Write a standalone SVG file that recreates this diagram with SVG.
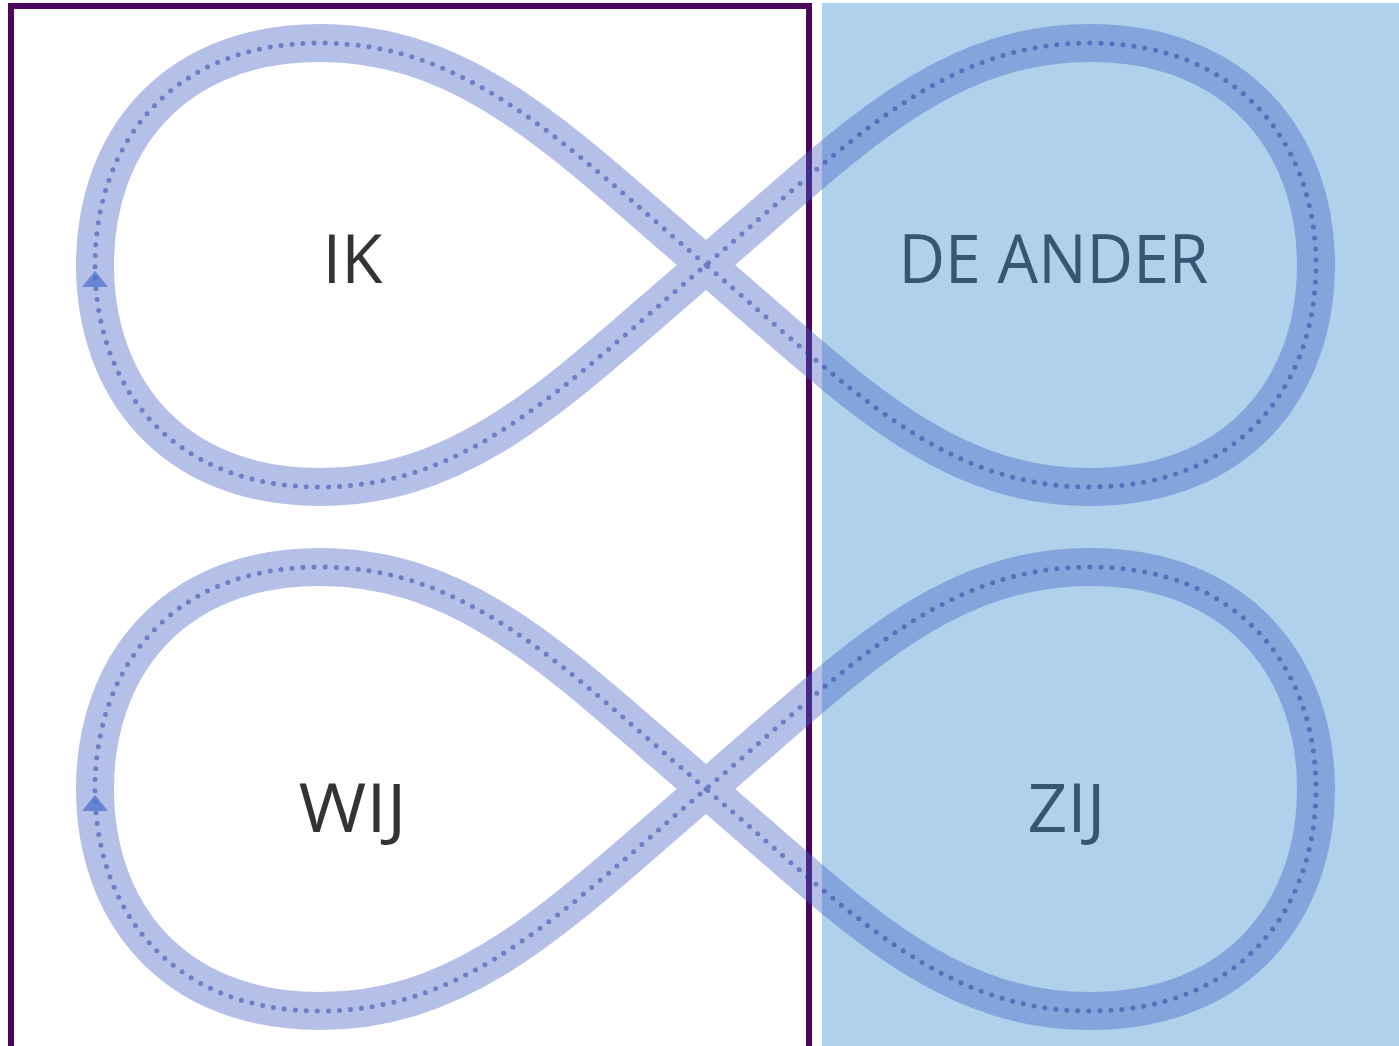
<svg xmlns="http://www.w3.org/2000/svg" width="1399" height="1046" viewBox="0 0 1399 1046">
  <style>
    .frame { fill: none; stroke: #4a075e; stroke-width: 6; }
    .panel { fill: #b0d1ec; }
    .band { fill: none; stroke: rgb(67,97,197); stroke-width: 38; stroke-linejoin: round; }
    .dots { fill: none; stroke: rgb(40,60,160); stroke-opacity: 0.5; stroke-width: 5; stroke-dasharray: 0 11; stroke-linecap: round; }
    .arrow { fill: rgb(80,115,205); fill-opacity: 0.75; }
    .lbl { font-family: "Open Sans", "Liberation Sans", sans-serif; font-size: 67px; text-anchor: middle; }
    .dark { fill: #333333; }
    .blue { fill: #375673; }
  </style>
  <defs>
    <path id="loop" d="M706,265 C565,145 470,43 320,43 C170,43 95,145 95,265 C95,385 170,487 320,487 C470,487 565,385 706,265 C847,145 940,43 1090,43 C1240,43 1316,145 1316,265 C1316,385 1240,487 1090,487 C940,487 847,385 706,265 Z"/>
  </defs>

  <rect x="0" y="0" width="1399" height="1046" fill="#ffffff"/>
  <rect class="panel" x="822" y="3" width="577" height="1050"/>
  <rect class="frame" x="11" y="6" width="798" height="1100"/>

  <g id="connectors">
    <g id="loop-top">
      <g opacity="0.4"><use href="#loop" class="band"/></g>
      <use href="#loop" class="dots"/>
      <polygon class="arrow" points="95,271 82,287 108,287"/>
    </g>
    <g id="loop-bottom" transform="translate(0,524)">
      <g opacity="0.4"><use href="#loop" class="band"/></g>
      <use href="#loop" class="dots"/>
      <polygon class="arrow" points="95,271 82,287 108,287"/>
    </g>
  </g>

  <g id="node-ik"><text class="lbl dark" x="352.5" y="283" textLength="60" lengthAdjust="spacingAndGlyphs">IK</text></g>
  <g id="node-de-ander"><text class="lbl blue" x="1053.5" y="283" textLength="310" lengthAdjust="spacingAndGlyphs">DE ANDER</text></g>
  <g id="node-wij"><text class="lbl dark" x="352.5" y="832" textLength="108" lengthAdjust="spacingAndGlyphs">WIJ</text></g>
  <g id="node-zij"><text class="lbl blue" x="1066.5" y="832" textLength="78" lengthAdjust="spacingAndGlyphs">ZIJ</text></g>
</svg>
